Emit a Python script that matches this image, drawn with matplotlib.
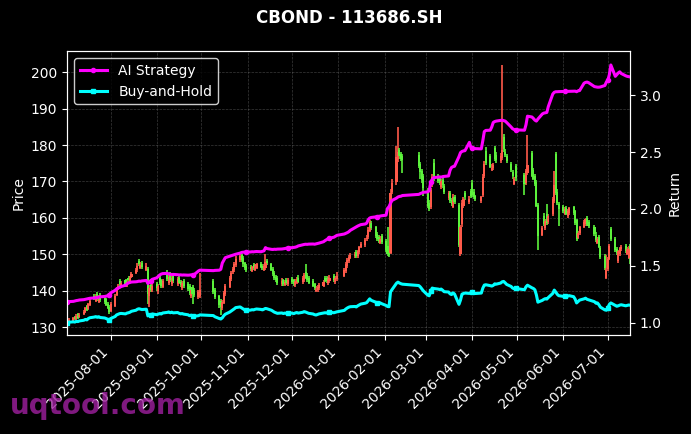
import numpy as np
import pandas as pd
import matplotlib
matplotlib.use('Agg')
import matplotlib.pyplot as plt
import matplotlib.dates as mdates

# CBOND 113686.SH - daily candles + strategy / buy-and-hold returns
title = 'CBOND - 113686.SH'

holidays = ['2025-10-01', '2025-10-02', '2025-10-03', '2025-10-06', '2025-10-07', '2025-10-08',
            '2026-01-01', '2026-01-02',
            '2026-02-16', '2026-02-17', '2026-02-18', '2026-02-19', '2026-02-20', '2026-02-23',
            '2026-04-06', '2026-05-01', '2026-05-04', '2026-05-05', '2026-06-19']

# one line per month: Jul-25 .. Jul-26
opens = [
    130.8, 131.2, 131.7, 132.8, 132.2, 133.5, 132.7, 133.5, 134.1, 135.8, 135.0, 136.0, 138.6, 137.2, 139.1, 136.9, 138.8, 137.9, 137.6, 136.4, 135.6,
    134.5, 135.8, 138.9, 140.6, 142.6, 141.3, 142.8, 141.5, 143.6, 142.7, 143.8, 144.9, 145.6, 148.2, 146.3, 147.6, 145.8, 145.9, 138.6, 141.6, 140.1,
    141.9, 139.8, 143.6, 142.8, 141.1, 144.9, 142.1, 144.6, 141.8, 144.1, 141.9, 143.6, 142.5, 140.8, 142.6, 141.9, 141.2, 138.6, 141.1, 140.2, 138.2, 138.6,
    142.6, 140.1, 138.4, 137.2, 135.2, 136.6, 139.0, 141.1, 143.2, 145.1, 145.6, 147.0, 148.5, 149.8, 148.9, 147.5, 146.7,
    146.6, 145.5, 147.0, 145.7, 146.3, 147.4, 146.9, 145.8, 146.2, 148.1, 147.2, 146.0, 144.9, 143.8, 143.4, 141.8, 142.8, 141.6, 143.0, 141.7,
    143.3, 142.8, 141.5, 142.2, 143.6, 142.3, 142.8, 145.1, 144.2, 143.4, 142.6, 141.7, 139.8, 140.1, 140.6, 141.3, 143.6, 143.4, 142.1, 142.6, 144.0, 142.3, 143.1,
    144.1, 145.3, 146.8, 148.1, 149.1, 149.4, 150.6, 149.5, 150.7, 152.1, 152.6, 154.1, 154.8, 156.5, 158.6, 157.4, 155.6, 154.8, 153.2, 154.9,
    153.6, 152.4, 151.6, 150.4, 167.2, 169.8, 176.1, 178.6, 177.6, 176.9, 177.2, 174.8, 172.9, 171.4,
    167.5, 164.1, 163.0, 169.2, 175.2, 171.4, 170.8, 168.5, 170.4, 168.8, 165.4, 166.9, 164.8, 163.1, 165.6, 163.6, 150.2, 158.2, 163.2, 166.8, 164.4, 167.3,
    169.6, 167.2, 165.9, 164.6, 166.2, 171.5, 178.4, 176.9, 173.2, 173.7, 179.2, 177.3, 175.6, 176.4, 182.1, 178.2, 176.9, 174.8, 172.6, 169.4, 174.2,
    171.8, 169.6, 172.4, 177.9, 173.2, 171.5, 169.8, 163.6, 155.4, 160.6, 157.3, 161.2, 158.8, 161.1, 164.6, 177.6, 167.2, 163.8,
    163.1, 161.2, 162.8, 160.6, 161.4, 162.9, 161.8, 159.3, 154.6, 155.9, 157.6, 158.4, 159.9, 158.9, 157.6, 155.4, 153.2, 154.8, 151.8, 149.6, 143.6,
    145.9, 148.8, 156.9, 154.3, 151.4, 148.2, 150.1, 151.4, 152.3, 150.2, 149.1, 152.4,
]
highs = [
    131.7, 132.4, 132.8, 133.1, 133.5, 133.8, 133.9, 134.6, 135.6, 136.1, 136.7, 137.6, 139.2, 139.0, 139.6, 138.9, 139.3, 138.3, 138.0, 136.9, 136.0,
    136.8, 139.2, 140.9, 141.9, 143.1, 142.7, 143.3, 143.0, 144.1, 144.0, 145.1, 146.3, 147.6, 148.6, 147.8, 148.1, 147.5, 146.4, 141.5, 142.3, 142.0,
    142.5, 141.9, 144.4, 143.3, 143.2, 145.8, 144.3, 145.1, 144.0, 144.6, 143.7, 144.0, 143.0, 142.6, 143.1, 142.4, 141.7, 140.7, 141.6, 140.8, 140.2, 144.8,
    143.2, 140.6, 138.9, 137.6, 137.4, 139.9, 141.8, 144.1, 145.4, 146.5, 147.9, 149.4, 150.3, 150.1, 149.4, 147.9, 147.3,
    147.1, 146.9, 147.5, 147.3, 147.7, 147.8, 147.3, 147.4, 150.2, 148.6, 147.6, 146.4, 145.3, 144.3, 143.9, 143.4, 143.3, 143.0, 143.5, 143.4,
    143.8, 143.3, 143.1, 143.7, 144.3, 143.9, 144.8, 147.2, 144.8, 143.9, 143.1, 142.2, 141.3, 141.6, 142.2, 143.0, 144.1, 143.9, 143.7, 144.2, 144.6, 144.1, 145.0,
    146.2, 147.8, 148.9, 149.9, 150.4, 150.7, 151.1, 151.3, 152.4, 153.4, 154.5, 155.2, 157.4, 159.5, 159.1, 157.9, 156.1, 155.3, 154.9, 155.5,
    154.2, 157.4, 152.3, 167.8, 170.6, 179.8, 185.1, 179.3, 178.2, 177.6, 178.1, 175.3, 173.4, 172.0,
    168.2, 164.8, 168.3, 172.0, 176.1, 172.0, 171.5, 170.8, 171.0, 169.4, 167.5, 167.5, 165.4, 166.5, 166.2, 164.2, 158.1, 164.9, 165.8, 167.4, 166.0, 167.9,
    170.3, 167.8, 166.4, 166.1, 172.0, 175.6, 179.6, 177.5, 174.8, 175.1, 179.8, 178.0, 177.8, 201.9, 183.0, 178.9, 177.5, 175.4, 173.2, 171.3, 174.8,
    172.4, 173.4, 182.9, 178.4, 173.8, 172.1, 170.3, 164.2, 157.8, 161.4, 159.7, 163.9, 161.2, 165.8, 172.9, 178.2, 167.8, 164.4,
    163.6, 162.9, 163.3, 162.4, 163.1, 163.4, 162.3, 159.8, 156.3, 157.9, 159.4, 160.1, 160.4, 159.4, 158.1, 156.0, 154.8, 155.3, 152.3, 150.1, 149.8,
    149.2, 152.9, 157.4, 154.8, 151.9, 151.3, 152.1, 152.5, 152.8, 151.9, 152.3, 152.9,
]
lows = [
    130.8, 130.9, 131.4, 131.8, 131.9, 132.3, 132.4, 133.2, 133.8, 134.3, 134.7, 135.7, 137.4, 136.9, 137.2, 136.5, 137.0, 136.4, 135.8, 134.9, 133.6,
    134.1, 135.4, 138.4, 140.1, 141.3, 140.8, 141.0, 141.1, 142.4, 142.3, 143.4, 144.5, 145.2, 146.9, 145.9, 146.0, 145.3, 136.2, 135.6, 139.6, 139.7,
    139.8, 139.2, 141.6, 140.7, 140.6, 142.7, 141.6, 142.3, 141.3, 142.1, 141.4, 141.7, 141.1, 140.3, 140.8, 139.9, 138.8, 138.1, 136.4, 138.2, 137.6, 138.1,
    139.1, 137.7, 135.3, 133.4, 134.7, 136.2, 138.5, 140.8, 142.7, 144.6, 145.1, 146.6, 148.0, 147.9, 146.6, 145.6, 145.0,
    145.4, 145.1, 145.7, 145.3, 145.9, 146.1, 145.8, 145.4, 145.8, 147.0, 145.3, 144.1, 143.0, 142.4, 141.6, 141.3, 141.4, 141.2, 141.5, 141.2,
    141.7, 141.3, 141.1, 141.8, 142.0, 141.8, 142.3, 143.1, 142.3, 141.7, 140.9, 140.1, 139.5, 139.7, 140.1, 140.9, 142.3, 142.0, 141.6, 142.0, 142.3, 141.8, 142.6,
    143.7, 144.9, 146.3, 147.7, 148.6, 148.9, 149.1, 149.0, 150.2, 151.6, 152.1, 153.6, 154.3, 156.0, 156.7, 154.6, 153.7, 153.1, 152.7, 152.8,
    150.6, 149.6, 149.3, 150.0, 166.5, 168.9, 175.4, 176.3, 175.6, 172.4, 173.6, 170.8, 169.6, 166.1,
    162.6, 161.8, 162.5, 168.6, 170.2, 169.6, 169.0, 167.9, 168.3, 166.6, 164.9, 164.0, 163.3, 162.6, 163.8, 152.0, 149.6, 157.6, 162.6, 164.9, 163.8, 165.5,
    165.8, 165.2, 164.5, 164.1, 165.7, 170.9, 174.6, 173.6, 172.9, 173.1, 175.6, 175.1, 175.0, 175.9, 178.2, 176.8, 175.0, 172.6, 170.8, 168.9, 170.2,
    166.2, 169.1, 171.9, 171.1, 170.3, 168.7, 162.9, 151.2, 154.9, 157.8, 156.6, 158.1, 158.2, 160.6, 164.1, 166.2, 163.6, 157.9,
    161.3, 160.7, 160.7, 160.1, 160.9, 160.9, 158.1, 153.7, 154.1, 155.4, 157.1, 157.9, 157.9, 157.3, 155.1, 153.4, 152.7, 151.6, 148.8, 145.7, 143.1,
    145.4, 148.3, 153.6, 150.7, 149.8, 147.6, 149.6, 150.9, 150.4, 149.7, 148.6, 147.4,
]
closes = [
    131.3, 131.9, 132.4, 132.1, 133.0, 132.6, 133.4, 134.2, 135.1, 134.6, 136.2, 137.1, 137.9, 138.4, 137.6, 138.2, 137.4, 136.8, 136.1, 135.2, 134.0,
    136.2, 138.5, 140.3, 141.2, 141.8, 142.1, 141.6, 142.4, 142.9, 143.5, 144.6, 145.8, 146.9, 147.4, 147.1, 146.5, 146.9, 139.2, 140.8, 140.2, 141.4,
    140.6, 141.3, 142.0, 141.4, 142.6, 143.2, 143.8, 142.9, 143.5, 142.7, 143.1, 142.2, 141.6, 142.0, 141.3, 140.5, 139.4, 140.1, 139.2, 138.8, 139.5, 140.3,
    139.6, 138.2, 136.1, 135.6, 136.9, 139.4, 141.2, 143.6, 144.8, 145.9, 147.3, 148.8, 149.6, 148.4, 147.2, 146.1, 145.6,
    145.9, 146.4, 146.1, 146.8, 147.2, 146.6, 146.2, 146.9, 147.8, 147.5, 145.8, 144.6, 143.5, 142.9, 142.2, 142.6, 141.9, 142.5, 142.1, 142.8,
    142.3, 141.8, 142.6, 143.1, 142.5, 143.4, 144.2, 143.6, 142.9, 142.2, 141.4, 140.6, 140.2, 140.9, 141.5, 142.4, 142.9, 142.6, 143.2, 143.5, 142.8, 143.4, 143.9,
    145.6, 147.2, 148.4, 149.3, 149.8, 150.1, 149.6, 150.8, 151.9, 152.8, 153.9, 154.6, 156.8, 158.9, 157.2, 155.1, 154.2, 153.6, 154.3, 153.4,
    151.2, 150.1, 149.8, 166.9, 169.5, 176.8, 178.2, 177.1, 176.3, 175.8, 174.2, 172.6, 170.4, 168.2,
    163.2, 162.4, 167.6, 171.3, 170.8, 170.2, 169.6, 170.1, 168.9, 167.2, 166.8, 164.6, 163.9, 165.8, 164.4, 152.6, 157.4, 164.2, 165.1, 165.6, 165.2, 166.1,
    166.4, 165.8, 165.1, 165.6, 171.2, 174.8, 175.2, 174.1, 173.6, 174.4, 176.2, 175.8, 177.1, 178.6, 178.9, 177.4, 175.6, 173.2, 171.4, 170.6, 170.9,
    169.4, 172.8, 174.6, 171.6, 170.8, 169.2, 163.4, 155.1, 157.2, 158.4, 159.1, 158.6, 160.4, 165.2, 169.0, 166.8, 164.1, 162.5,
    161.8, 162.4, 161.2, 161.9, 162.6, 161.4, 158.6, 154.2, 155.8, 157.4, 158.9, 159.6, 158.4, 157.8, 155.6, 153.9, 154.2, 152.1, 149.3, 146.2, 145.8,
    148.6, 152.4, 154.1, 151.2, 150.3, 150.8, 151.6, 152.0, 150.9, 151.4, 151.8, 151.5,
]
ai_strategy = [
    1.184, 1.186, 1.188, 1.192, 1.195, 1.197, 1.200, 1.203, 1.206, 1.210, 1.212, 1.215, 1.218, 1.220, 1.222, 1.225, 1.228, 1.231, 1.234, 1.237, 1.240,
    1.262, 1.285, 1.298, 1.305, 1.310, 1.318, 1.330, 1.342, 1.350, 1.354, 1.358, 1.360, 1.362, 1.366, 1.364, 1.368, 1.372, 1.345, 1.352, 1.368, 1.382,
    1.395, 1.408, 1.420, 1.428, 1.432, 1.434, 1.430, 1.426, 1.424, 1.425, 1.422, 1.420, 1.421, 1.419, 1.420, 1.418, 1.419, 1.421, 1.420, 1.422, 1.455, 1.462,
    1.458, 1.460, 1.462, 1.470, 1.525, 1.548, 1.572, 1.585, 1.590, 1.594, 1.598, 1.602, 1.612, 1.618, 1.620, 1.621, 1.622,
    1.622, 1.624, 1.623, 1.625, 1.626, 1.624, 1.628, 1.632, 1.660, 1.652, 1.645, 1.644, 1.646, 1.645, 1.647, 1.648, 1.650, 1.652, 1.655, 1.658,
    1.660, 1.662, 1.664, 1.668, 1.675, 1.685, 1.688, 1.690, 1.689, 1.691, 1.692, 1.690, 1.693, 1.695, 1.700, 1.712, 1.722, 1.730, 1.738, 1.742, 1.752, 1.760, 1.768,
    1.780, 1.786, 1.792, 1.800, 1.812, 1.835, 1.842, 1.850, 1.856, 1.862, 1.868, 1.875, 1.905, 1.920, 1.925, 1.930, 1.932, 1.935, 1.938, 1.940,
    1.945, 2.005, 2.020, 2.050, 2.075, 2.095, 2.105, 2.110, 2.112, 2.118, 2.128, 2.135, 2.140, 2.146,
    2.150, 2.160, 2.235, 2.260, 2.275, 2.280, 2.282, 2.279, 2.284, 2.286, 2.290, 2.340, 2.365, 2.372, 2.375, 2.460, 2.495, 2.505, 2.510, 2.512, 2.585, 2.540,
    2.535, 2.532, 2.530, 2.528, 2.600, 2.680, 2.690, 2.692, 2.720, 2.760, 2.768, 2.772, 2.778, 2.780, 2.776, 2.772, 2.760, 2.720, 2.705, 2.698, 2.695,
    2.692, 2.740, 2.815, 2.808, 2.795, 2.780, 2.772, 2.790, 2.835, 2.842, 2.845, 2.848, 2.900, 3.010, 3.025, 3.030, 3.030, 3.031,
    3.032, 3.032, 3.033, 3.033, 3.034, 3.034, 3.035, 3.030, 3.038, 3.040, 3.105, 3.112, 3.115, 3.110, 3.075, 3.072, 3.070, 3.070, 3.072, 3.085, 3.115,
    3.130, 3.180, 3.265, 3.165, 3.180, 3.195, 3.205, 3.190, 3.170, 3.165, 3.162, 3.160,
]
buy_hold = [
    1.000, 1.005, 1.008, 1.006, 1.013, 1.010, 1.016, 1.022, 1.029, 1.025, 1.037, 1.044, 1.050, 1.054, 1.048, 1.053, 1.046, 1.042, 1.037, 1.030, 1.021,
    1.037, 1.055, 1.069, 1.075, 1.080, 1.082, 1.078, 1.085, 1.088, 1.093, 1.101, 1.110, 1.119, 1.123, 1.120, 1.116, 1.119, 1.060, 1.072, 1.068, 1.077,
    1.071, 1.076, 1.081, 1.077, 1.086, 1.091, 1.095, 1.088, 1.093, 1.087, 1.090, 1.083, 1.078, 1.081, 1.076, 1.070, 1.062, 1.067, 1.060, 1.057, 1.062, 1.069,
    1.063, 1.053, 1.037, 1.033, 1.043, 1.062, 1.075, 1.094, 1.103, 1.111, 1.122, 1.133, 1.139, 1.130, 1.121, 1.113, 1.109,
    1.111, 1.115, 1.113, 1.118, 1.121, 1.117, 1.113, 1.119, 1.126, 1.123, 1.110, 1.101, 1.093, 1.088, 1.083, 1.086, 1.081, 1.085, 1.082, 1.088,
    1.084, 1.080, 1.086, 1.090, 1.085, 1.092, 1.098, 1.094, 1.088, 1.083, 1.077, 1.071, 1.068, 1.073, 1.078, 1.085, 1.088, 1.086, 1.091, 1.093, 1.088, 1.092, 1.096,
    1.109, 1.121, 1.130, 1.137, 1.141, 1.143, 1.139, 1.149, 1.157, 1.164, 1.172, 1.177, 1.194, 1.210, 1.197, 1.181, 1.174, 1.170, 1.175, 1.168,
    1.152, 1.143, 1.141, 1.271, 1.291, 1.347, 1.357, 1.349, 1.343, 1.339, 1.327, 1.315, 1.298, 1.281,
    1.243, 1.237, 1.276, 1.305, 1.301, 1.296, 1.292, 1.296, 1.286, 1.273, 1.270, 1.254, 1.248, 1.263, 1.252, 1.162, 1.199, 1.251, 1.257, 1.261, 1.258, 1.265,
    1.267, 1.263, 1.257, 1.261, 1.304, 1.331, 1.334, 1.326, 1.322, 1.328, 1.342, 1.339, 1.349, 1.360, 1.363, 1.351, 1.337, 1.319, 1.305, 1.299, 1.302,
    1.290, 1.316, 1.330, 1.307, 1.301, 1.289, 1.244, 1.181, 1.197, 1.206, 1.212, 1.208, 1.222, 1.258, 1.287, 1.270, 1.250, 1.238,
    1.232, 1.237, 1.228, 1.233, 1.238, 1.229, 1.208, 1.174, 1.187, 1.199, 1.210, 1.216, 1.206, 1.202, 1.185, 1.172, 1.174, 1.158, 1.137, 1.113, 1.110,
    1.132, 1.161, 1.174, 1.152, 1.145, 1.149, 1.155, 1.158, 1.149, 1.153, 1.156, 1.154,
]

dates = pd.bdate_range('2025-07-03', '2026-07-16')
dates = dates[~dates.isin(pd.to_datetime(holidays))]
n = len(dates)
assert all(len(a) == n for a in [opens, highs, lows, closes, ai_strategy, buy_hold]), \
    (n, len(opens), len(highs), len(lows), len(closes), len(ai_strategy), len(buy_hold))

o = np.array(opens); h = np.array(highs); l = np.array(lows); c = np.array(closes)
x = mdates.date2num(dates)

up_col, down_col = '#ff5a4a', '#5cf23c'
cols = np.where(c >= o, up_col, down_col)

fig = plt.figure(figsize=(6.91, 4.34), dpi=100, facecolor='black')
ax = fig.add_axes([0.097, 0.228, 0.815, 0.654])
ax.set_facecolor('black')

ax.vlines(x, l, h, colors=cols, linewidth=1.2, zorder=2)
ax.bar(x, np.abs(c - o), bottom=np.minimum(o, c), width=1.4, color=cols, linewidth=0, zorder=3)

ax.set_xlim(x[0] - 0.3, x[-1])
ax.set_ylim(127.8, 205.8)
ax.xaxis.set_major_locator(mdates.MonthLocator())
ax.xaxis.set_major_formatter(mdates.DateFormatter('%Y-%m-%d'))
plt.setp(ax.get_xticklabels(), rotation=45, ha='right')
ax.grid(True, color='#808080', linestyle='--', linewidth=0.5, alpha=0.45)
ax.set_ylabel('Price', color='white', fontsize=10)
ax.tick_params(colors='white', labelsize=10)

ax2 = ax.twinx()
ax2.plot(x, ai_strategy, color='#ff00ff', lw=2.2, marker='o', ms=3, markevery=20, label='AI Strategy')
ax2.plot(x, buy_hold, color='#00ffff', lw=2.2, marker='s', ms=3, markevery=20, label='Buy-and-Hold')
ax2.set_ylim(0.892, 3.386)
ax2.set_ylabel('Return', color='white', fontsize=10)
ax2.tick_params(colors='white', labelsize=10)

for a in (ax, ax2):
    for s in a.spines.values():
        s.set_color('white')

leg = ax2.legend(loc='upper left', facecolor='black', edgecolor='white', fontsize=10)
for t in leg.get_texts():
    t.set_color('white')

fig.text(0.505, 0.958, title, ha='center', va='center', color='white', fontsize=12, fontweight='bold')
fig.text(0.014, 0.046, 'uqtool.com', color='#a020a0', alpha=0.8, fontsize=20, fontweight='bold',
         va='baseline', zorder=10)

fig.savefig('out.png', dpi=100, facecolor='black')
